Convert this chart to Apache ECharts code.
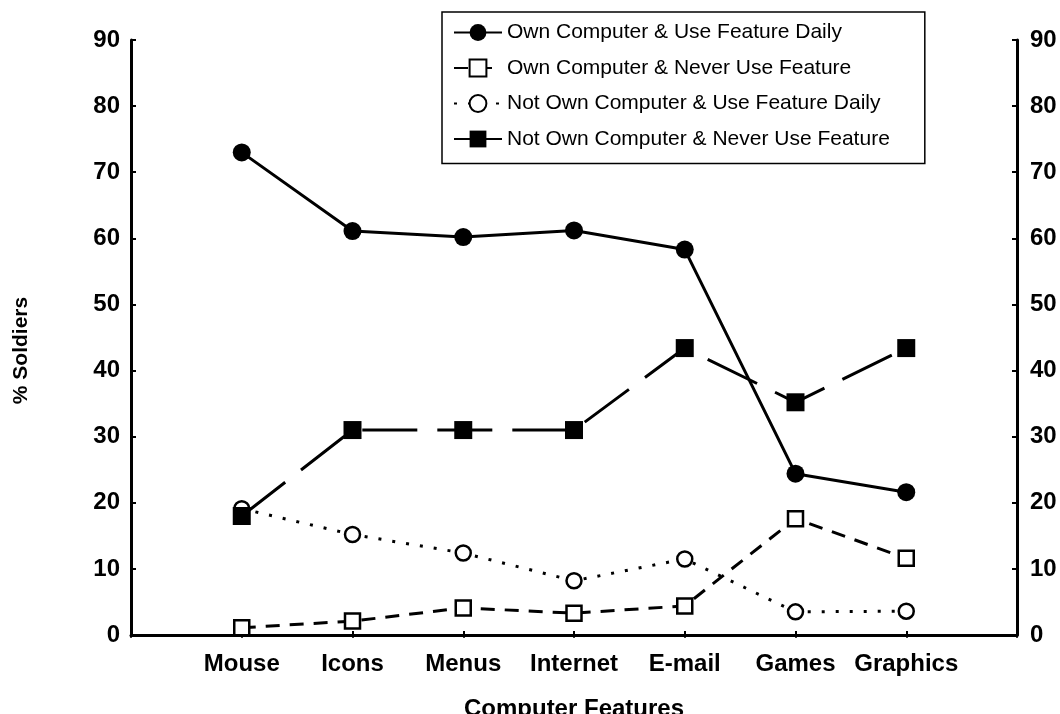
<!DOCTYPE html>
<html>
<head>
<meta charset="utf-8">
<script src="https://cdn.jsdelivr.net/npm/echarts@6/dist/echarts.min.js"></script>
<style>
  html, body { margin: 0; padding: 0; background: #fff; }
  #chart { width: 1060px; height: 714px; }
</style>
</head>
<body>
<div id="chart"></div>
<script>
var features = ['Mouse', 'Icons', 'Menus', 'Internet', 'E-mail', 'Games', 'Graphics'];
var ownDaily = [73.0, 61.1, 60.2, 61.2, 58.3, 24.4, 21.6];
var ownNever = [1.1, 2.1, 4.1, 3.3, 4.4, 17.6, 11.6];
var notOwnDaily = [19.1, 15.2, 12.4, 8.2, 11.5, 3.5, 3.6];
var notOwnNever = [18.0, 31.0, 31.0, 31.0, 43.4, 35.2, 43.4];
var yTicks = [0, 10, 20, 30, 40, 50, 60, 70, 80, 90];

var FONT = 'Arial, "Liberation Sans", sans-serif';

// empty slot at each end so the points sit inside the frame
var axisCats = [''].concat(features, ['']);
function pad(arr) { return [null].concat(arr, [null]); }

var myChart = echarts.init(document.getElementById('chart'));

var yAxisBase = {
    type: 'value',
    min: yTicks[0],
    max: yTicks[yTicks.length - 1],
    interval: 10,
    splitLine: { show: false },
    axisLine: { show: true, lineStyle: { color: '#000', width: 3 } },
    axisTick: { show: true, inside: true, length: 5, lineStyle: { color: '#000', width: 2 } },
    axisLabel: { color: '#000', fontFamily: FONT, fontWeight: 'bold', fontSize: 24 }
};

var option = {
    backgroundColor: '#fff',
    animation: false,
    grid: { left: 131, right: 43, top: 40, bottom: 79, containLabel: false, outerBoundsMode: 'none' },
    legend: {
        orient: 'vertical',
        left: 442,
        top: 12,
        padding: [10, 35, 14, 11],
        itemWidth: 48,
        itemHeight: 21,
        itemGap: 14.5,
        backgroundColor: '#fff',
        borderColor: '#000',
        borderWidth: 1.5,
        borderRadius: 0,
        z: 10,
        textStyle: { color: '#000', fontFamily: FONT, fontSize: 21 },
        data: [
            'Own Computer & Use Feature Daily',
            'Own Computer & Never Use Feature',
            'Not Own Computer & Use Feature Daily',
            'Not Own Computer & Never Use Feature'
        ]
    },
    xAxis: [
        {
            type: 'category',
            data: axisCats,
            boundaryGap: false,
            name: 'Computer Features',
            nameLocation: 'middle',
            nameGap: 62,
            nameTextStyle: { color: '#000', fontFamily: FONT, fontWeight: 'bold', fontSize: 24 },
            axisLine: { lineStyle: { color: '#000', width: 3 } },
            axisTick: { show: true, inside: true, length: 4, lineStyle: { color: '#000', width: 2 } },
            axisLabel: { color: '#000', fontFamily: FONT, fontWeight: 'bold', fontSize: 24, margin: 17, interval: 0 },
            splitLine: { show: false }
        },
        {
            type: 'category',
            data: axisCats,
            boundaryGap: false,
            position: 'top',
            axisLine: { show: true, lineStyle: { color: '#000', width: 2 } },
            axisTick: { show: true, inside: true, length: 3, lineStyle: { color: '#000', width: 1.5 } },
            axisLabel: { show: false },
            splitLine: { show: false }
        }
    ],
    yAxis: [
        echarts.util.merge({
            position: 'left',
            name: '% Soldiers',
            nameLocation: 'middle',
            nameRotate: 90,
            nameGap: 99,
            nameTextStyle: { color: '#000', fontFamily: FONT, fontWeight: 'bold', fontSize: 21, padding: [0, 26, 0, 0] },
            axisLabel: { margin: 11 }
        }, yAxisBase, false),
        echarts.util.merge({
            position: 'right',
            axisLabel: { margin: 13 }
        }, yAxisBase, false)
    ],
    series: [
        {
            name: 'Own Computer & Use Feature Daily',
            type: 'line',
            data: pad(ownDaily),
            symbol: 'circle',
            symbolSize: 18,
            itemStyle: { color: '#000' },
            lineStyle: { color: '#000', width: 3, type: 'solid' }
        },
        {
            name: 'Own Computer & Never Use Feature',
            type: 'line',
            data: pad(ownNever),
            symbol: 'rect',
            symbolSize: 15,
            itemStyle: { color: '#fff', borderColor: '#000', borderWidth: 2.5 },
            lineStyle: { color: '#000', width: 3, type: [14, 10] }
        },
        {
            name: 'Not Own Computer & Use Feature Daily',
            type: 'line',
            data: pad(notOwnDaily),
            symbol: 'circle',
            symbolSize: 15,
            itemStyle: { color: '#fff', borderColor: '#000', borderWidth: 2.5 },
            lineStyle: { color: '#000', width: 3, type: [3, 11] }
        },
        {
            name: 'Not Own Computer & Never Use Feature',
            type: 'line',
            data: pad(notOwnNever),
            symbol: 'rect',
            symbolSize: 18,
            itemStyle: { color: '#000' },
            lineStyle: { color: '#000', width: 3, type: [55, 20] }
        }
    ]
};

myChart.setOption(option);
</script>
</body>
</html>
